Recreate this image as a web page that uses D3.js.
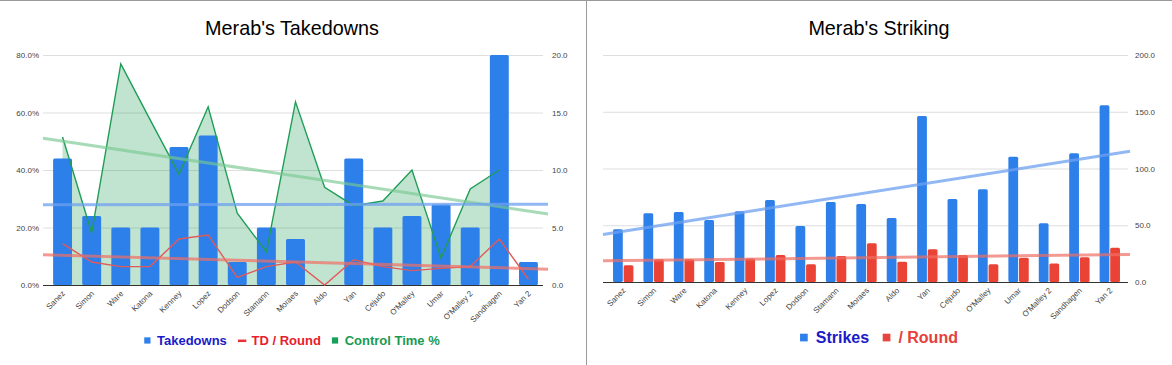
<!DOCTYPE html>
<html><head><meta charset="utf-8">
<script src="https://cdn.jsdelivr.net/npm/d3@7"></script>
<style>
body{margin:0;background:#fff}
svg{display:block}
text{font-family:Arial,"Liberation Sans",sans-serif}
</style>
</head><body>
<svg id="c" width="1172" height="365"></svg>
<script>
// ---------- DATA ----------
const fighters = ["Sanez","Simon","Ware","Katona","Kenney","Lopez","Dodson","Stamann","Moraes","Aldo","Yan","Cejudo","O'Malley","Umar","O'Malley 2","Sandhagen","Yan 2"];
const takedowns = [11,6,5,5,12,13,2,5,4,0,11,5,6,7,5,20,2];
const tdPerRound = [3.6,2.0,1.6,1.6,4.0,4.35,0.67,1.6,2.0,0,2.2,1.6,1.25,1.45,1.6,4.0,0.5];
const controlTimePct = [51.5,18.1,76.9,57.6,38.6,62.0,25.0,11.5,63.7,34.0,27.6,29.2,40.0,9.4,33.4,40.0,null];
const strikes = [46.4,60.5,61.7,54.6,62.3,72.2,49.3,70.5,68.7,56.4,146.3,73.1,81.7,110.4,51.7,113.4,155.7];
const strikesPerRound = [14.7,20.0,20.0,17.6,20.6,23.8,15.6,22.9,34.1,17.9,28.8,23.8,15.6,21.4,16.4,21.7,30.2];
const pctTicks = [0,20,40,60,80];
const tdTicks = [0,5,10,15,20];
const strikeTicks = [0,50,100,150,200];
const titles = ["Merab's Takedowns","Merab's Striking"];
const legendLeft = ["Takedowns","TD / Round","Control Time %"];
const legendRight = ["Strikes","/ Round"];

// ---------- STYLE ----------
const C = {
  bar:"#2d7fea", red:"#ea4335", redLine:"#e05a5a", green:"#1f9d57", greenFill:"rgba(31,157,87,0.28)",
  trendBlue:"rgba(110,160,240,0.75)", trendGreen:"rgba(120,200,145,0.65)", trendRed:"rgba(240,110,100,0.7)",
  grid:"#dedede", axisText:"#444", base:"#333"
};
const svg = d3.select("#c");

function fit(vals){
  const pts = vals.map((v,i)=>[i,v]).filter(p=>p[1]!=null);
  const mx = d3.mean(pts,p=>p[0]), my = d3.mean(pts,p=>p[1]);
  const b = d3.sum(pts,p=>(p[0]-mx)*(p[1]-my))/d3.sum(pts,p=>(p[0]-mx)**2);
  return i => my + b*(i-mx);
}
function trend(g, band, yScale, vals, color, width, x0, x1){
  const f = fit(vals);
  const step = band.step(), c0 = band(band.domain()[0]) + band.bandwidth()/2;
  const idx = x => (x - c0)/step;
  g.append("line").attr("x1",x0).attr("x2",x1)
   .attr("y1",yScale(f(idx(x0)))).attr("y2",yScale(f(idx(x1))))
   .attr("stroke",color).attr("stroke-width",width).attr("stroke-linecap","butt");
}
function grid(g, ticks, yScale, x0, x1){
  g.selectAll(null).data(ticks.slice(1)).enter().append("line")
   .attr("x1",x0).attr("x2",x1).attr("y1",d=>yScale(d)+0.5).attr("y2",d=>yScale(d)+0.5)
   .attr("stroke",C.grid).attr("stroke-width",1);
}
function styleAxis(sel){
  sel.select(".domain").remove();
  sel.selectAll("line").remove();
  sel.selectAll("text").attr("fill",C.axisText).style("font-size","8px").style("font-family","Arial,'Liberation Sans',sans-serif");
}
function xLabels(g, band, baseY){
  g.selectAll(null).data(fighters).enter().append("text")
   .attr("transform",d=>`translate(${band(d)+band.bandwidth()/2+3},${baseY+9}) rotate(-45)`)
   .attr("text-anchor","end").attr("fill",C.axisText).style("font-size","8px").text(d=>d);
}
function legend(g, items, cx, y, fs){
  const grp = g.append("g");
  let x = 0;
  items.forEach(it=>{
    if(it.type==="sq"){
      grp.append("rect").attr("x",x).attr("y",y-fs*0.55).attr("width",fs*0.48).attr("height",fs*0.48).attr("fill",it.color);
      x += fs*0.48 + fs*0.5;
    } else {
      grp.append("rect").attr("x",x).attr("y",y-fs*0.38).attr("width",fs*0.65).attr("height",2.5).attr("fill",it.color);
      x += fs*0.65 + fs*0.4;
    }
    const t = grp.append("text").attr("x",x).attr("y",y).attr("fill",it.text).style("font-size",fs+"px").style("font-weight","bold").text(it.label);
    x += t.node().getComputedTextLength() + fs*0.85;
  });
  const w = x - fs*0.85;
  grp.attr("transform",`translate(${cx - w/2},0)`);
}

// frame
svg.append("line").attr("x1",0).attr("x2",1172).attr("y1",0.5).attr("y2",0.5).attr("stroke","#9a9a9a");
svg.append("line").attr("x1",586.5).attr("x2",586.5).attr("y1",0).attr("y2",365).attr("stroke","#9a9a9a");

// ---------- LEFT CHART ----------
{
  const g = svg.append("g");
  const L = 43, R = 548, top = 55, base = 285;
  const x = d3.scaleBand().domain(fighters).range([L+5,R-5]).paddingInner(0.35).paddingOuter(0.175);
  const cx = d => x(d)+x.bandwidth()/2;
  const yP = d3.scaleLinear().domain([0,80]).range([base,top]);
  const yC = d3.scaleLinear().domain([0,20]).range([base,top]);

  g.append("text").attr("x",292).attr("y",35).attr("text-anchor","middle").style("font-size","19.8px").attr("fill","#000").text(titles[0]);
  grid(g, pctTicks, yP, L, R-5);

  const ctData = fighters.map((f,i)=>({f, v:controlTimePct[i]}));
  g.append("path").datum(ctData)
   .attr("d", d3.area().defined(d=>d.v!=null).x(d=>cx(d.f)).y0(yP(0)).y1(d=>yP(d.v)))
   .attr("fill",C.greenFill);

  g.selectAll(null).data(fighters).enter().append("rect")
   .attr("x",d=>x(d)).attr("width",x.bandwidth())
   .attr("y",(d,i)=>yC(takedowns[i])).attr("height",(d,i)=>base-yC(takedowns[i]))
   .attr("rx",1.5).attr("fill",C.bar);

  g.append("line").attr("x1",L).attr("x2",R-5).attr("y1",base+0.5).attr("y2",base+0.5).attr("stroke",C.base);

  g.append("path").datum(ctData)
   .attr("d", d3.line().defined(d=>d.v!=null).x(d=>cx(d.f)).y(d=>yP(d.v)))
   .attr("fill","none").attr("stroke",C.green).attr("stroke-width",1.4);
  g.append("path").datum(fighters.map((f,i)=>({f,v:tdPerRound[i]})))
   .attr("d", d3.line().x(d=>cx(d.f)).y(d=>yC(d.v)))
   .attr("fill","none").attr("stroke",C.redLine).attr("stroke-width",1.4);

  trend(g, x, yP, controlTimePct, C.trendGreen, 3, L, R);
  trend(g, x, yC, takedowns, C.trendBlue, 3, L, R);
  trend(g, x, yC, tdPerRound, C.trendRed, 3, L, R);

  const al = g.append("g").attr("transform",`translate(${L-4},0)`)
    .call(d3.axisLeft(yP).tickValues(pctTicks).tickFormat(d=>d.toFixed(1)+"%").tickSize(0).tickPadding(0));
  styleAxis(al);
  const ar = g.append("g").attr("transform",`translate(552,0)`)
    .call(d3.axisRight(yC).tickValues(tdTicks).tickFormat(d=>d.toFixed(1)).tickSize(0).tickPadding(0));
  styleAxis(ar);
  xLabels(g, x, base);

  legend(g, [
    {type:"sq",color:C.bar,text:"#1a1ac8",label:legendLeft[0]},
    {type:"ln",color:"#e8303a",text:"#e8202c",label:legendLeft[1]},
    {type:"sq",color:"#16a05a",text:"#1a9a50",label:legendLeft[2]}
  ], 292, 344.5, 13);
}

// ---------- RIGHT CHART ----------
{
  const g = svg.append("g");
  const L = 603, R = 1130, top = 55, base = 282;
  const x = d3.scaleBand().domain(fighters).range([L+5,R-5]).paddingInner(0.33).paddingOuter(0.165);
  const sub = d3.scaleBand().domain(["strikes","perRound"]).range([0,x.bandwidth()]).paddingInner(0.08);
  const y = d3.scaleLinear().domain([0,200]).range([base,top]);

  g.append("text").attr("x",879).attr("y",35).attr("text-anchor","middle").style("font-size","19.8px").attr("fill","#000").text(titles[1]);
  grid(g, strikeTicks, y, L, R-2);

  g.selectAll(null).data(fighters).enter().append("rect")
   .attr("x",d=>x(d)+sub("strikes")).attr("width",sub.bandwidth())
   .attr("y",(d,i)=>y(strikes[i])).attr("height",(d,i)=>base-y(strikes[i]))
   .attr("rx",1.5).attr("fill",C.bar);
  g.selectAll(null).data(fighters).enter().append("rect")
   .attr("x",d=>x(d)+sub("perRound")).attr("width",sub.bandwidth())
   .attr("y",(d,i)=>y(strikesPerRound[i])).attr("height",(d,i)=>base-y(strikesPerRound[i]))
   .attr("rx",1.5).attr("fill",C.red);

  g.append("line").attr("x1",L).attr("x2",R-2).attr("y1",base+0.5).attr("y2",base+0.5).attr("stroke",C.base);

  trend(g, x, y, strikes, C.trendBlue, 3, L, R);
  trend(g, x, y, strikesPerRound, C.trendRed, 3, L, R);

  const ar = g.append("g").attr("transform",`translate(1135,0)`)
    .call(d3.axisRight(y).tickValues(strikeTicks).tickFormat(d=>d.toFixed(1)).tickSize(0).tickPadding(0));
  styleAxis(ar);
  xLabels(g, x, base);

  legend(g, [
    {type:"sq",color:C.bar,text:"#1a1ac8",label:legendRight[0]},
    {type:"sq",color:"#e8433c",text:"#e5403b",label:legendRight[1]}
  ], 879, 342.5, 16);
}
</script>
</body></html>
